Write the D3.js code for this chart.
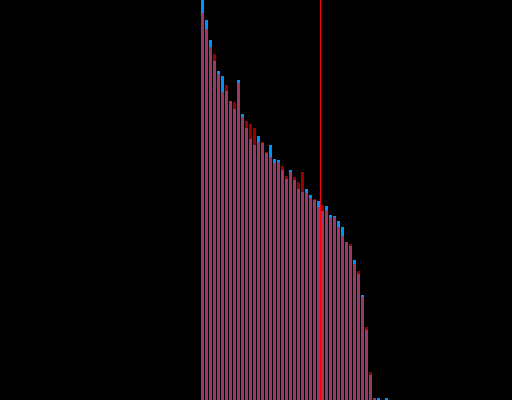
<!DOCTYPE html>
<html>
<head>
<meta charset="utf-8">
<script src="https://cdn.jsdelivr.net/npm/d3@7"></script>
<style>
  html, body { margin: 0; padding: 0; background: #000; }
  svg { display: block; }
</style>
</head>
<body>
<svg id="chart" width="512" height="400"></svg>
<script>
// Bin starts (categories)
const bins = [50,51,52,53,54,55,56,57,58,59,60,61,62,63,64,65,66,67,68,69,70,71,72,73,74,75,76,77,78,79,80,81,82,83,84,85,86,87,88,89,90,91,92,93,94,95,96];
// Series A (blue)
const blueValues = [400,380,360,339,329,324,309,299,291,320,286,272,261,255,264,257,247,255,241,240,230,221,230,220,211,208,211,205,200,199,189,194,185,184,179,173,158,154,140,126,105,70,25,2,2,0,2];
// Series B (red)
const redValues = [387,371,353,346,326,308,315,299,298,317,283,279,276,272,258,258,248,243,237,238,234,224,228,223,218,228,207,202,201,193,195,190,182,183,173,164,158,156,136,129,103,73,28,2,0,0,0];
// Threshold marker
const threshold = 80;

const W = 512, H = 400;
const svg = d3.select("#chart");
svg.append("rect").attr("width", W).attr("height", H).attr("fill", "#000");

const x = d3.scaleLinear().domain([0, 128]).range([0, W]);
const y = d3.scaleLinear().domain([0, 400]).range([H, 0]);

svg.append("g").selectAll("rect").data(bins).join("rect")
  .attr("x", (b) => x(b) + 1)
  .attr("width", (b) => x(b + 1) - x(b) - 1)
  .attr("y", (b, i) => y(blueValues[i]))
  .attr("height", (b, i) => H - y(blueValues[i]))
  .attr("fill", "rgb(0,145,255)");

svg.append("g").selectAll("rect").data(bins).join("rect")
  .attr("x", (b) => x(b) + 1)
  .attr("width", (b) => x(b + 1) - x(b) - 1)
  .attr("y", (b, i) => y(redValues[i]))
  .attr("height", (b, i) => H - y(redValues[i]))
  .attr("fill", "rgb(255,0,0)")
  .attr("fill-opacity", 0.6);

svg.append("line")
  .attr("x1", x(threshold) + 0.5).attr("x2", x(threshold) + 0.5)
  .attr("y1", 0).attr("y2", H)
  .attr("stroke", "rgb(255,0,0)")
  .attr("stroke-width", 1);
</script>
</body>
</html>
